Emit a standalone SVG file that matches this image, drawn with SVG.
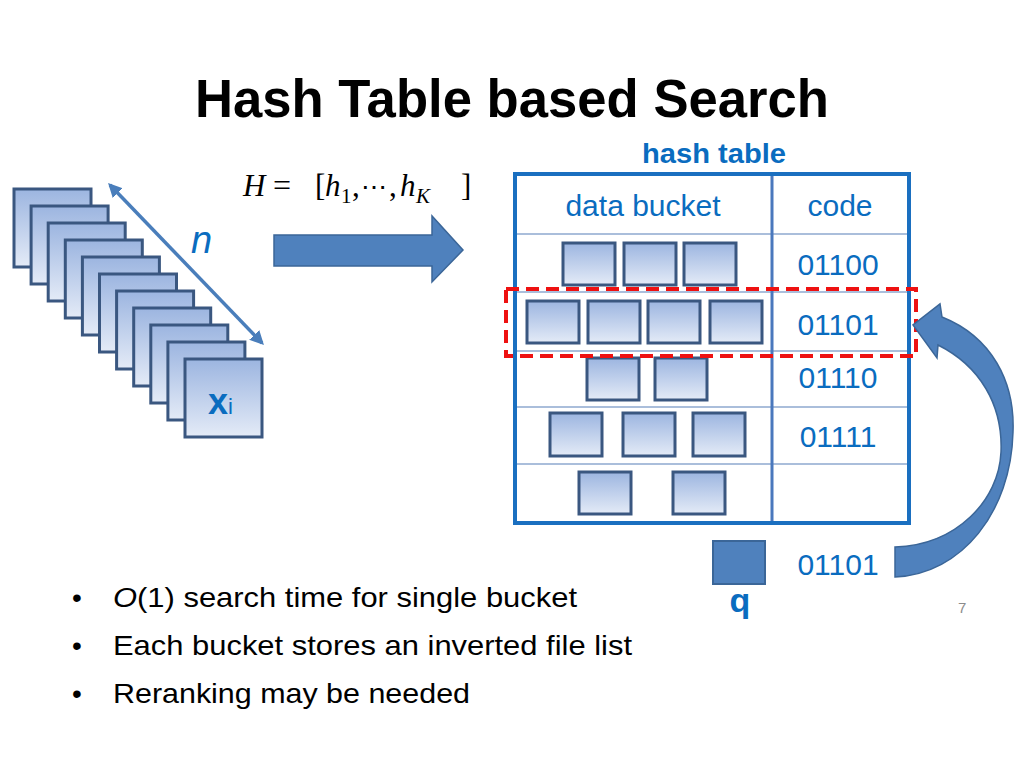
<svg xmlns="http://www.w3.org/2000/svg" width="1024" height="768" viewBox="0 0 1024 768">
<defs>
<linearGradient id="g" x1="0" y1="0" x2="0" y2="1">
<stop offset="0" stop-color="#9cb5e0"/>
<stop offset="1" stop-color="#e4ebf7"/>
</linearGradient>
<marker id="ah" viewBox="0 0 10 10" refX="8" refY="5" markerWidth="4" markerHeight="4" orient="auto-start-reverse">
<path d="M0,0 L10,5 L0,10 Z" fill="#4a7ebb"/>
</marker>
<style>
.b{fill:url(#g);stroke:#3a5780;stroke-width:3}
.sans{font-family:"Liberation Sans",Arial,sans-serif}
.blue{fill:#0a6cbf}
.code{font-family:"Liberation Sans",Arial,sans-serif;font-size:30px;fill:#0a6cbf;text-anchor:middle}
.bul{font-family:"Liberation Sans",Arial,sans-serif;font-size:28px;fill:#000}
.math{font-family:"Liberation Serif","DejaVu Serif","Times New Roman",serif;font-size:31px;fill:#000}
.hl{stroke:#8ea9cf;stroke-width:1.5}
</style>
</defs>
<rect width="1024" height="768" fill="#fff"/>

<text class="sans" x="195" y="117" font-size="54" font-weight="bold" textLength="634" lengthAdjust="spacingAndGlyphs">Hash Table based Search</text>

<g id="stack">
<rect class="b" x="14" y="189" width="77" height="78"/>
<rect class="b" x="31.1" y="206" width="77" height="78"/>
<rect class="b" x="48.2" y="223" width="77" height="78"/>
<rect class="b" x="65.3" y="240" width="77" height="78"/>
<rect class="b" x="82.4" y="257" width="77" height="78"/>
<rect class="b" x="99.5" y="274" width="77" height="78"/>
<rect class="b" x="116.6" y="291" width="77" height="78"/>
<rect class="b" x="133.7" y="308" width="77" height="78"/>
<rect class="b" x="150.8" y="325" width="77" height="78"/>
<rect class="b" x="167.9" y="342" width="77" height="78"/>
<rect class="b" x="185" y="359" width="77" height="78"/>
<text class="sans blue" x="208" y="414" font-size="36" font-weight="bold">x<tspan font-size="22" font-weight="normal">i</tspan></text>
</g>

<g id="count">
<line x1="110" y1="185" x2="262" y2="343" stroke="#4a7ebb" stroke-width="3.5" marker-start="url(#ah)" marker-end="url(#ah)"/>
<text class="sans blue" x="191" y="253" font-size="38" font-style="italic">n</text>
</g>

<g id="hashfunc">
<text class="math" x="243" y="196"><tspan font-style="italic">H</tspan><tspan x="273" font-size="32">=</tspan><tspan x="315">[</tspan><tspan x="325" font-style="italic">h</tspan><tspan x="341" dy="7" font-size="21">1</tspan><tspan x="352" dy="-7">,</tspan><tspan x="361" font-size="26">⋯</tspan><tspan x="389">,</tspan><tspan x="400" font-style="italic">h</tspan><tspan x="416" dy="7" font-size="21" font-style="italic">K</tspan><tspan x="461" dy="-7">]</tspan></text>
</g>

<g id="bigarrow">
<path d="M274,235 L432,235 L432,216 L463,250 L432,282 L432,266 L274,266 Z" fill="#4f81bd" stroke="#3b6698" stroke-width="1.5"/>
</g>

<g id="table">
<text class="sans blue" x="642" y="163" font-size="28" font-weight="bold" textLength="144" lengthAdjust="spacingAndGlyphs">hash table</text>
<line class="hl" x1="515" y1="234" x2="909" y2="234"/>
<line class="hl" x1="515" y1="292" x2="909" y2="292"/>
<line class="hl" x1="515" y1="351" x2="909" y2="351"/>
<line class="hl" x1="515" y1="407" x2="909" y2="407"/>
<line class="hl" x1="515" y1="464" x2="909" y2="464"/>
<line x1="772" y1="174" x2="772" y2="523" stroke="#4a78bd" stroke-width="3"/>
<rect x="515" y="174" width="394" height="349" fill="none" stroke="#1a6fc0" stroke-width="4"/>
<text class="code" x="643" y="216">data bucket</text>
<text class="code" x="840" y="216">code</text>
<text class="code" x="838" y="275">01100</text>
<text class="code" x="838" y="335">01101</text>
<text class="code" x="838" y="388">01110</text>
<text class="code" x="838" y="447">01111</text>
</g>

<g id="buckets">
<rect class="b" x="563" y="243" width="52" height="42"/>
<rect class="b" x="624" y="243" width="52" height="42"/>
<rect class="b" x="684" y="243" width="52" height="42"/>
<rect class="b" x="527" y="301" width="52" height="42"/>
<rect class="b" x="588" y="301" width="52" height="42"/>
<rect class="b" x="648" y="301" width="52" height="42"/>
<rect class="b" x="710" y="301" width="52" height="42"/>
<rect class="b" x="587" y="358" width="52" height="42"/>
<rect class="b" x="655" y="358" width="52" height="42"/>
<rect class="b" x="550" y="413" width="52" height="43"/>
<rect class="b" x="623" y="413" width="52" height="43"/>
<rect class="b" x="693" y="413" width="52" height="43"/>
<rect class="b" x="579" y="472" width="52" height="42"/>
<rect class="b" x="673" y="472" width="52" height="42"/>
</g>

<g id="highlight">
<rect x="506" y="289" width="410" height="67" fill="none" stroke="#ee1111" stroke-width="4" stroke-dasharray="13,7"/>
</g>

<g id="query">
<rect x="713" y="541" width="52" height="43" fill="#4f81bd" stroke="#3b6698" stroke-width="2"/>
<text class="sans blue" x="740" y="612" font-size="34" font-weight="bold" text-anchor="middle">q</text>
<text class="code" x="838" y="575">01101</text>
</g>

<g id="connectors">
<path d="M895,547 C957,545 999,500 1001,452 C1003,405 980,366 938,345 L937,358 L913,325 L940,304 L942,317 C992,337 1015,382 1013,432 C1011,512 962,574 895,577 Z" fill="#4f81bd" stroke="#3b6698" stroke-width="1.5"/>
</g>

<g id="bullets">
<text class="bul" x="72" y="607">•</text>
<text class="bul" x="113" y="607" textLength="464" lengthAdjust="spacingAndGlyphs"><tspan font-style="italic">O</tspan>(1) search time for single bucket</text>
<text class="bul" x="72" y="655">•</text>
<text class="bul" x="113" y="655" textLength="519" lengthAdjust="spacingAndGlyphs">Each bucket stores an inverted file list</text>
<text class="bul" x="72" y="703">•</text>
<text class="bul" x="113" y="703" textLength="357" lengthAdjust="spacingAndGlyphs">Reranking may be needed</text>
</g>

<text class="sans" x="958" y="613" font-size="15" fill="#8c8c8c">7</text>
</svg>
